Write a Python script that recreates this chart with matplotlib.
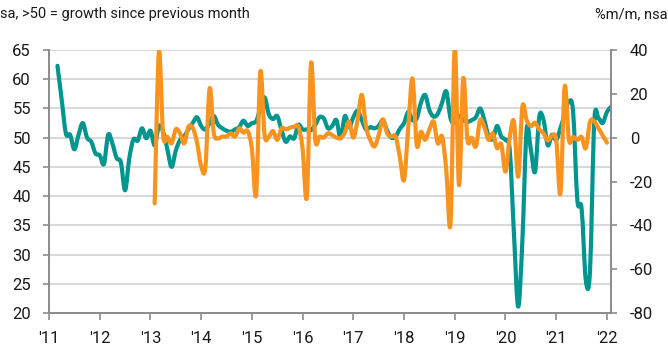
import matplotlib
matplotlib.use("Agg")
import matplotlib.pyplot as plt
from matplotlib.path import Path
from matplotlib.patches import PathPatch
import numpy as np

plt.rcParams['axes.unicode_minus'] = False
plt.rcParams['font.family'] = ['Roboto', 'DejaVu Sans']

# ---- data ----
teal_start = (2011, 3)   # first month of PMI-type series (left axis)
teal = [62.3, 56.5, 50.7, 50.5, 48.0, 50.5, 52.5, 50.0, 49.3, 47.3,
        47.0, 45.5, 50.5, 49.0, 46.5, 45.8, 41.0, 46.5, 49.7, 49.5, 51.6, 49.9,
        51.2, 48.7, 52.0, 51.0, 48.0, 45.0, 47.8, 49.6, 50.2, 51.5, 52.5, 53.5,
        52.0, 51.4, 52.5, 53.7, 52.2, 51.6, 51.2, 51.0, 51.4, 51.8, 52.9, 52.0,
        52.5, 52.8, 55.0, 56.9, 54.0, 53.2, 53.7, 51.3, 49.3, 50.2, 49.9, 52.2,
        51.4, 51.4, 51.3, 52.2, 53.5, 53.3, 51.6, 52.0, 53.0, 49.9, 53.7, 51.8,
        53.5, 54.6, 53.0, 51.4, 51.8, 51.6, 52.0, 53.0, 51.2, 50.0, 50.2, 51.5,
        52.5, 54.4, 53.0, 53.3, 56.0, 57.3, 54.7, 53.6, 54.1, 56.0, 57.9, 53.3,
        52.5, 53.7, 53.0, 52.7, 53.0, 53.5, 55.0, 53.0, 50.2, 49.8, 52.0, 50.2,
        49.6, 47.9, 33.6, 21.1, 32.5, 51.4, 47.9, 44.2, 53.6, 53.0, 48.7, 50.5,
        49.6, 51.6, 54.0, 56.2, 54.4, 39.3, 37.9, 25.6, 27.3, 52.7, 53.3, 52.5,
        54.4, 55.3]

orange_start = (2013, 2)  # first month of %m/m series (right axis)
orange = [-30, 39, 1, 0.4, -2.6, 3.8, 2.0, -2.6, 5, 4.5, -2,
          -13, -13.5, 22.5, 2, -0.3, 0.5, 0.5, 2, 0.5, 4.3, 2.3, 3,
          -5, -26, 30, 1.2, 0.5, 3, -1, 4.3, 3.8, 4.5, 5, 5,
          -5, -27, 34, -1, 0.5, 0, 2, 1.2, 0, -0.2, 2.3, 7.3,
          0, 8, 19.5, 5, -1, -4, 1.2, 8.4, 2, 0.5, 0.5, -8.7,
          -19.3, 4.8, 27, -3.3, 2.7, -1, 3.8, 7.3, -2.6, 0.5, -15, -39,
          41, -21.6, 27, -1, 0, -4, 8, 4.8, -1, 2, -4.8, -3,
          -15.5, 0, 7.3, -17.8, 14.1, 8, 5.3, 6.8, 3.8, 2, -1.3, 0.8,
          -1, -25.4, 23.3, -1, 0.3, -1, 0.3, -4.8, 7.3, 7.3, 4.3, 1, -2.3]

year_ticks = list(range(2011, 2023))
year_labels = ["'11", "'12", "'13", "'14", "'15", "'16", "'17", "'18", "'19", "'20", "'21", "'22"]
left_ticks = [20, 25, 30, 35, 40, 45, 50, 55, 60, 65]
right_ticks = [-80, -60, -40, -20, 0, 20, 40]

TEAL = '#00958F'
ORANGE = '#F7931E'
GREY = '#8C8C8C'


def month_axis(start, n):
    y0, m0 = start
    return y0 + (m0 - 1 + np.arange(n)) / 12.0


def smooth_line(a, xs, ys, color, lw):
    """Draw a smoothed line (Catmull-Rom as cubic Bezier) through the data points."""
    xs = np.asarray(xs, float)
    ys = np.asarray(ys, float)
    n = len(xs)
    verts = [(xs[0], ys[0])]
    codes = [Path.MOVETO]
    for i in range(n - 1):
        p0 = i - 1 if i > 0 else i
        p3 = i + 2 if i + 2 < n else i + 1
        c1 = (xs[i] + (xs[i + 1] - xs[p0]) / 6, ys[i] + (ys[i + 1] - ys[p0]) / 6)
        c2 = (xs[i + 1] - (xs[p3] - xs[i]) / 6, ys[i + 1] - (ys[p3] - ys[i]) / 6)
        verts += [c1, c2, (xs[i + 1], ys[i + 1])]
        codes += [Path.CURVE4, Path.CURVE4, Path.CURVE4]
    patch = PathPatch(Path(verts, codes), fill=False, edgecolor=color, lw=lw,
                      joinstyle='round', capstyle='round', zorder=3)
    a.add_patch(patch)


fig = plt.figure(figsize=(6.68, 3.64), dpi=100)
ax = fig.add_axes([49 / 668, 1 - 313 / 364, (611 - 49) / 668, (313 - 50) / 364])
ax2 = ax.twinx()

smooth_line(ax, month_axis(teal_start, len(teal)), teal, TEAL, 3.0)
smooth_line(ax2, month_axis(orange_start, len(orange)), orange, ORANGE, 3.0)

ax.set_xlim(2011, 2022.08)
ax.set_ylim(20, 65)
ax2.set_ylim(-80, 40)

ax.set_xticks(year_ticks)
ax.set_xticklabels(year_labels)
ax.set_yticks(left_ticks)
ax2.set_yticks(right_ticks)

ax.yaxis.grid(True, color='#D9D9D9', lw=1.5)
ax.set_axisbelow(True)

for a in (ax, ax2):
    a.spines['top'].set_visible(False)
    for s in ('left', 'right', 'bottom'):
        a.spines[s].set_color(GREY)
        a.spines[s].set_linewidth(1.3)

ax.tick_params(axis='y', direction='out', length=4.5, width=1.2, color=GREY,
               pad=8.5, labelsize=12, labelcolor='#1a1a1a')
ax2.tick_params(axis='y', direction='out', length=4.5, width=1.2, color=GREY,
                pad=9, labelsize=12, labelcolor='#1a1a1a')
ax.tick_params(axis='x', direction='out', length=5, width=1.2, color=GREY,
               pad=8, labelsize=12, labelcolor='#1a1a1a')

fig.text(0.0, 1 - 7 / 364, "sa, >50 = growth since previous month",
         ha='left', va='top', fontsize=10.5, color='#1a1a1a')
fig.text(1.0, 1 - 7 / 364, "%m/m, nsa",
         ha='right', va='top', fontsize=10.5, color='#1a1a1a')

fig.savefig("out.png", dpi=100)
